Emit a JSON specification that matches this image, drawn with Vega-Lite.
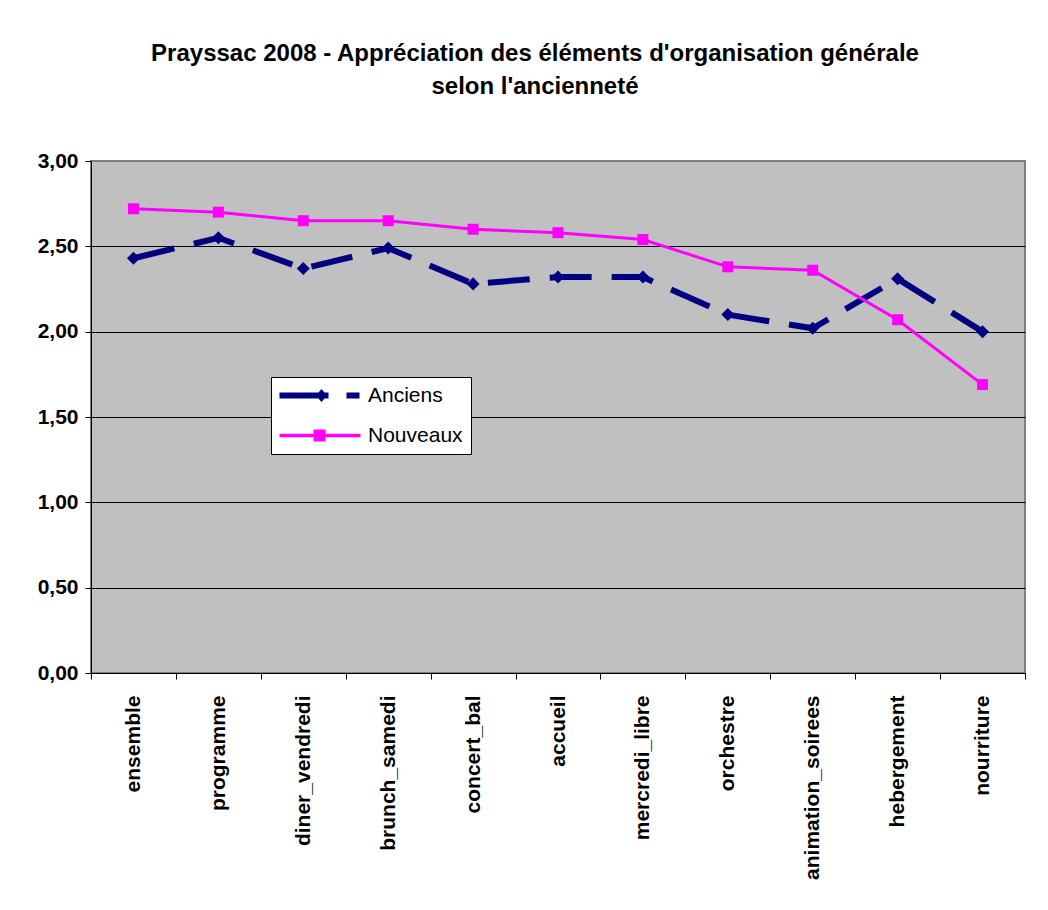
{
  "$schema": "https://vega.github.io/schema/vega-lite/v6.json",
  "width": 934,
  "height": 512,
  "autosize": {"type": "pad"},
  "padding": {"left": 35, "top": 42, "right": 10, "bottom": 5},
  "background": "white",
  "title": {
    "text": ["Prayssac 2008 - Appréciation des éléments d'organisation générale", "selon l'ancienneté"],
    "font": "Liberation Sans",
    "fontSize": 24,
    "fontWeight": "bold",
    "lineHeight": 33,
    "anchor": "middle",
    "offset": 51,
    "dx": -23,
    "color": "black"
  },
  "data": {
    "values": [
      {"cat": "ensemble", "serie": "Anciens", "value": 2.43},
      {"cat": "programme", "serie": "Anciens", "value": 2.55},
      {"cat": "diner_vendredi", "serie": "Anciens", "value": 2.37},
      {"cat": "brunch_samedi", "serie": "Anciens", "value": 2.49},
      {"cat": "concert_bal", "serie": "Anciens", "value": 2.28},
      {"cat": "accueil", "serie": "Anciens", "value": 2.32},
      {"cat": "mercredi_libre", "serie": "Anciens", "value": 2.32},
      {"cat": "orchestre", "serie": "Anciens", "value": 2.10},
      {"cat": "animation_soirees", "serie": "Anciens", "value": 2.02},
      {"cat": "hebergement", "serie": "Anciens", "value": 2.31},
      {"cat": "nourriture", "serie": "Anciens", "value": 2.00},
      {"cat": "ensemble", "serie": "Nouveaux", "value": 2.72},
      {"cat": "programme", "serie": "Nouveaux", "value": 2.70},
      {"cat": "diner_vendredi", "serie": "Nouveaux", "value": 2.65},
      {"cat": "brunch_samedi", "serie": "Nouveaux", "value": 2.65},
      {"cat": "concert_bal", "serie": "Nouveaux", "value": 2.60},
      {"cat": "accueil", "serie": "Nouveaux", "value": 2.58},
      {"cat": "mercredi_libre", "serie": "Nouveaux", "value": 2.54},
      {"cat": "orchestre", "serie": "Nouveaux", "value": 2.38},
      {"cat": "animation_soirees", "serie": "Nouveaux", "value": 2.36},
      {"cat": "hebergement", "serie": "Nouveaux", "value": 2.07},
      {"cat": "nourriture", "serie": "Nouveaux", "value": 1.69}
    ]
  },
  "encoding": {
    "x": {
      "field": "cat",
      "type": "nominal",
      "sort": null,
      "scale": {"type": "band", "paddingInner": 0, "paddingOuter": 0},
      "axis": {
        "title": null,
        "labelAngle": -90,
        "labelFont": "Liberation Sans",
        "labelFontSize": 21,
        "labelFontWeight": "bold",
        "labelColor": "black",
        "labelPadding": 16,
        "labelLimit": 400,
        "tickBand": "extent",
        "tickSize": 6,
        "tickColor": "black",
        "domainColor": "black",
        "domainWidth": 1,
        "grid": false
      }
    },
    "y": {
      "field": "value",
      "type": "quantitative",
      "scale": {"domain": [0, 3], "nice": false, "zero": true},
      "axis": {
        "title": null,
        "values": [0, 0.5, 1, 1.5, 2, 2.5, 3],
        "labelExpr": "replace(format(datum.value, '.2f'), '.', ',')",
        "labelFont": "Liberation Sans",
        "labelFontSize": 21,
        "labelFontWeight": "bold",
        "labelColor": "black",
        "labelPadding": 7,
        "tickSize": 6,
        "tickColor": "black",
        "domainColor": "black",
        "domainWidth": 1,
        "grid": true,
        "gridColor": {"condition": {"test": "datum.value === 3", "value": "#808080"}, "value": "black"},
        "gridWidth": 1,
        "gridOpacity": 1,
        "minExtent": 56,
        "maxExtent": 56
      }
    },
    "color": {
      "field": "serie",
      "type": "nominal",
      "scale": {"domain": ["Anciens", "Nouveaux"], "range": ["#000080", "#FF00FF"]},
      "legend": {
        "title": null,
        "orient": "none",
        "legendX": 180,
        "legendY": 216,
        "fillColor": "white",
        "strokeColor": "black",
        "padding": 8,
        "rowPadding": 18,
        "symbolSize": 400,
        "labelOffset": 68,
        "labelFont": "Liberation Sans",
        "labelFontSize": 21,
        "labelColor": "black",
        "encode": {
          "symbols": {
            "update": {
              "shape": {"signal": "datum.value === 'Anciens' ? 'M-1,-0.3 L3.9,-0.3 L3.9,0.3 L-1,0.3 Z M2.65,0 L3.2,-0.65 L3.75,0 L3.2,0.65 Z M5.7,-0.3 L7,-0.3 L7,0.3 L5.7,0.3 Z' : 'M-1,-0.17 L7.1,-0.17 L7.1,0.17 L-1,0.17 Z M2.4,-0.6 L3.6,-0.6 L3.6,0.6 L2.4,0.6 Z'"},
              "fill": {"signal": "datum.value === 'Anciens' ? '#000080' : '#FF00FF'"},
              "strokeWidth": {"value": 0},
              "size": {"value": 400}
            }
          }
        }
      }
    }
  },
  "layer": [
    {
      "transform": [{"filter": "datum.serie === 'Anciens'"}],
      "mark": {"type": "line", "strokeCap": "butt", "strokeWidth": 6, "strokeDash": [42, 20]}
    },
    {
      "transform": [{"filter": "datum.serie === 'Anciens'"}],
      "mark": {"type": "point", "filled": true, "opacity": 1, "shape": "diamond", "size": 170}
    },
    {
      "transform": [{"filter": "datum.serie === 'Nouveaux'"}],
      "mark": {"type": "line", "strokeWidth": 3}
    },
    {
      "transform": [{"filter": "datum.serie === 'Nouveaux'"}],
      "mark": {"type": "point", "filled": true, "opacity": 1, "shape": "square", "size": 121}
    }
  ],
  "config": {
    "view": {"fill": "#C0C0C0", "stroke": "#808080", "strokeWidth": 2},
    "font": "Liberation Sans"
  }
}
